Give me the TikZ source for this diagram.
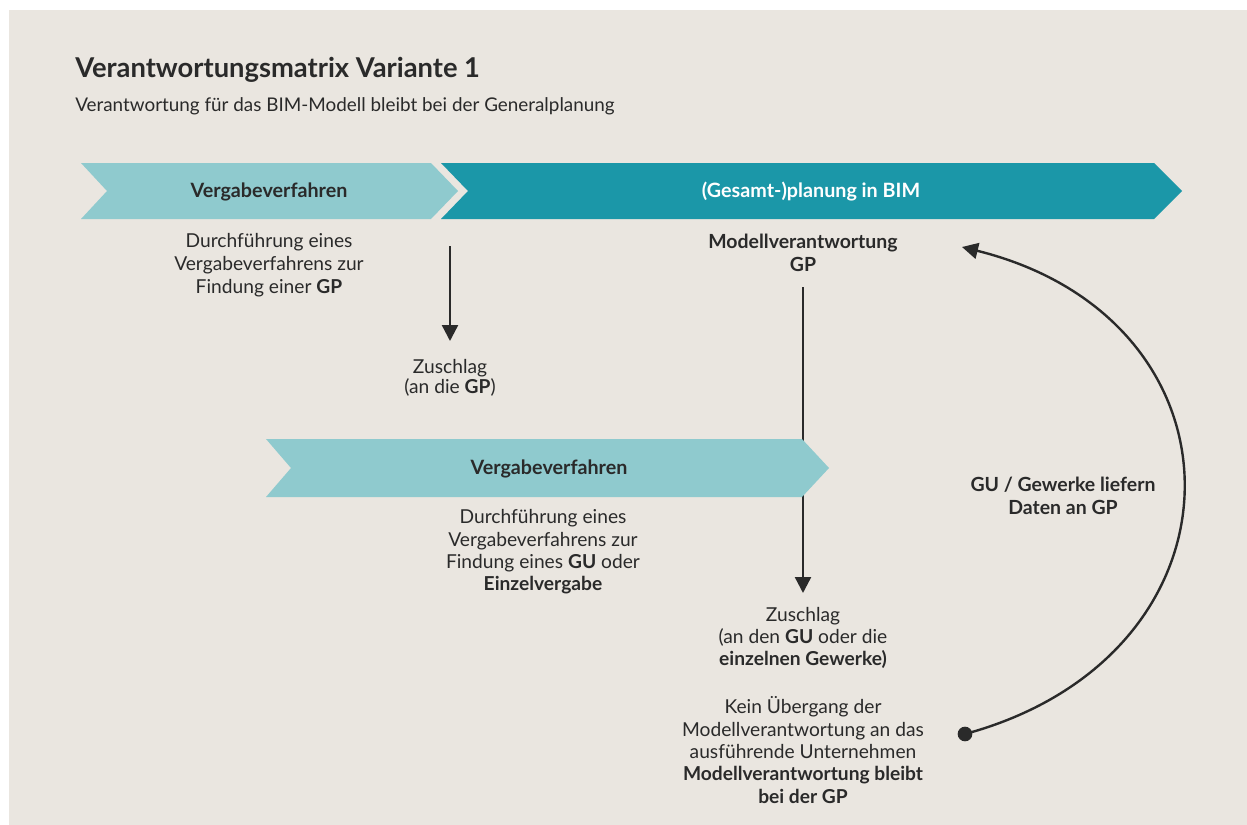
\documentclass[tikz,border=0pt]{standalone}
\usepackage{fontspec}
\setmainfont{Lato}
\usetikzlibrary{arrows.meta}

\definecolor{paper}{HTML}{EAE6E0}
\definecolor{tealLight}{HTML}{8FCACE}
\definecolor{tealDark}{HTML}{1B97A8}
\definecolor{ink}{HTML}{2A2A2A}

\tikzset{
  body/.style={align=center, inner sep=0pt, text=ink,
    font=\fontsize{14.4}{16.8}\selectfont},
  strong/.style={body, font=\fontsize{14.6}{16.8}\selectfont\bfseries},
  bandlabel/.style={inner sep=0pt, font=\fontsize{14.8}{17}\selectfont\bfseries},
  flow/.style={draw=ink, line width=1.8pt,
    -{Triangle[width=12pt,length=12pt]}},
}

\begin{document}
\begin{tikzpicture}[x=0.75pt,y=-0.75pt]
  % canvas (1 unit = 1 px, y grows downwards)
  \useasboundingbox (0,0) rectangle (1247,825);
  \fill[white] (0,0) rectangle (1247,825);
  \fill[paper] (9,10) rectangle (1247,825);

  % heading
  \node[anchor=base west, inner sep=0pt, text=ink,
        font=\fontsize{20.5}{24}\selectfont\bfseries] (title) at (75,77)
        {Verantwortungsmatrix Variante 1};
  \node[anchor=base west, inner sep=0pt, text=ink,
        font=\fontsize{14.15}{17}\selectfont] (subtitle) at (75,111)
        {Verantwortung für das BIM-Modell bleibt bei der Generalplanung};

  % phase bands
  \fill[tealLight] (81,163) -- (431,163) -- (458,191) -- (431,219)
                   -- (81,219) -- (107,191) -- cycle;
  \fill[tealDark]  (441,163) -- (1154,163) -- (1182,191) -- (1154,219)
                   -- (441,219) -- (468,191) -- cycle;
  \node[bandlabel, text=ink]   (band1) at (269,192) {Vergabeverfahren};
  \node[bandlabel, text=white] (band2) at (811,192) {(Gesamt-)planung in BIM};

  % first award
  \node[body, font=\fontsize{14.4}{17.2}\selectfont] (desc1) at (269,265)
    {Durchführung eines\\Vergabeverfahrens zur\\Findung einer \textbf{GP}};
  \node[body, font=\fontsize{14.4}{15.4}\selectfont] (award1) at (450,378)
    {Zuschlag\\(an die \textbf{GP})};
  \coordinate (a1s) at (450,246);
  \coordinate (a1e) at (450,341);
  \draw[flow] (a1s) -- (a1e);

  % model responsibility line (runs behind the second band)
  \node[strong] (resp) at (803,253) {Modellverantwortung\\GP};
  \coordinate (a2s) at (803,287);
  \coordinate (a2e) at (803,593);
  \draw[flow] (a2s) -- (a2e);

  % second tender
  \fill[tealLight] (266,439) -- (802,439) -- (829,468) -- (802,497)
                   -- (266,497) -- (291,468) -- cycle;
  \node[bandlabel, text=ink] (band3) at (549,469) {Vergabeverfahren};
  \node[body] (desc2) at (543,552)
    {Durchführung eines\\Vergabeverfahrens zur\\Findung eines \textbf{GU} oder\\\textbf{Einzelvergabe}};

  % second award and outcome
  \node[body] (award2) at (803,638)
    {Zuschlag\\(an den \textbf{GU} oder die\\\textbf{einzelnen Gewerke)}};
  \node[body] (outcome) at (803,750)
    {Kein Übergang der\\Modellverantwortung an das\\ausführende Unternehmen\\
     \textbf{Modellverantwortung bleibt}\\\textbf{bei der GP}};

  % data feedback loop
  \node[strong] (feedback) at (1063,496) {GU / Gewerke liefern\\Daten an GP};
  \coordinate (loopStart) at (965,734);
  \coordinate (loopEnd) at (962,247);
  \fill[ink] (loopStart) circle[radius=5.5pt];
  \draw[flow] (loopStart) .. controls (1256,655) and (1256,320) .. (loopEnd);
\end{tikzpicture}
\end{document}
